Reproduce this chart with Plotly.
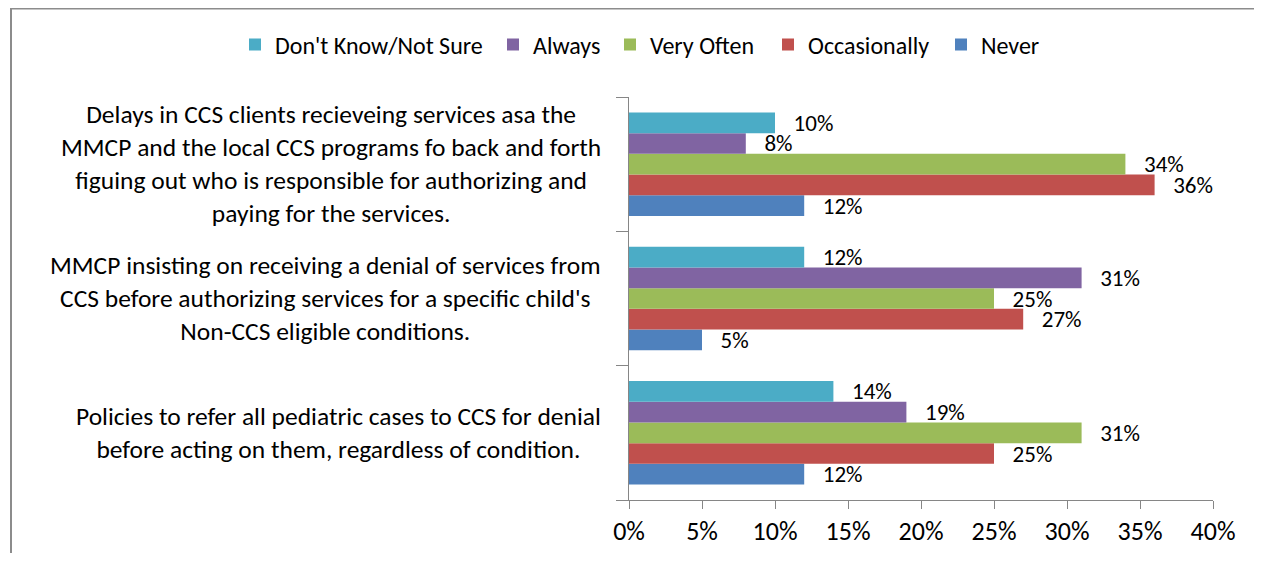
import plotly.graph_objects as go

categories = [
    "Policies to refer all pediatric cases to CCS for denial<br>before acting on them, regardless of condition.",
    "MMCP insisting on receiving a denial of services from<br>CCS before authorizing services for a specific child's<br>Non-CCS eligible conditions.",
    "Delays in CCS clients recieveing services asa the<br>MMCP and the local CCS programs fo back and forth<br>figuing out who is responsible for authorizing and<br>paying for the services.",
]
cat_keys = ["Policies", "MMCP", "Delays"]

never = [12, 5, 12]
occasionally = [25, 27, 36]
very_often = [31, 25, 34]
always = [19, 31, 8]
dont_know = [14, 12, 10]

series = [
    ("Never", never, "#4F81BD"),
    ("Occasionally", occasionally, "#C0504D"),
    ("Very Often", very_often, "#9BBB59"),
    ("Always", always, "#8064A2"),
    ("Don't Know/Not Sure", dont_know, "#4BACC6"),
]

x_ticks = [0, 5, 10, 15, 20, 25, 30, 35, 40]

FONT = "Carlito, Calibri, Lato, sans-serif"

# page has an 8px body margin; figure coordinates = page - 8
W, H = 1246, 545
L, R, T, B = 621, 41, 89, 53
pw = W - L - R
ph = H - T - B

# legend entry left positions (figure px), one legend per series
legend_left = {
    "Don't Know/Not Sure": 227,
    "Always": 485,
    "Very Often": 602,
    "Occasionally": 760,
    "Never": 933,
}

fig = go.Figure()
legend_layouts = {}
for i, (name, vals, color) in enumerate(series):
    lname = "legend" if i == 0 else f"legend{i + 1}"
    fig.add_trace(go.Bar(
        y=cat_keys, x=vals, name=name, orientation="h",
        marker=dict(color=color, line=dict(width=0)),
        text=["\u00a0\u00a0\u00a0" + f"{v}%" for v in vals],
        textposition="outside",
        textfont=dict(size=23, color="black", family=FONT),
        constraintext="none", cliponaxis=False,
        hoverinfo="x+name",
        legend=lname,
    ))
    legend_layouts[lname] = dict(
        orientation="h",
        xref="container", x=legend_left[name] / W, xanchor="left",
        yref="container", y=1 - 37 / H, yanchor="middle",
        font=dict(size=24, family=FONT),
        itemwidth=30, itemsizing="constant",
        bgcolor="rgba(0,0,0,0)",
    )


def px_to_paper_x(px):
    return (px - L) / pw


def px_to_paper_y(py):
    return 1 - (py - T) / ph


annotations = []
for key, label in zip(cat_keys, categories):
    annotations.append(dict(
        x=px_to_paper_x(595), xref="paper", xanchor="right",
        y=key, yref="y", yanchor="middle",
        text=label, align="center", showarrow=False,
        font=dict(size=25.5, color="black", family=FONT),
    ))

shapes = [
    dict(type="line", xref="paper", yref="paper",
         x0=px_to_paper_x(3), x1=px_to_paper_x(3),
         y0=px_to_paper_y(0), y1=px_to_paper_y(H + 10),
         line=dict(color="#8C8C8C", width=2)),
    dict(type="line", xref="paper", yref="paper",
         x0=px_to_paper_x(2), x1=px_to_paper_x(W + 10),
         y0=px_to_paper_y(0.5), y1=px_to_paper_y(0.5),
         line=dict(color="#8C8C8C", width=2)),
]

fig.update_layout(
    width=W, height=H,
    margin=dict(l=L, r=R, t=T, b=B, autoexpand=False),
    paper_bgcolor="white", plot_bgcolor="white",
    barmode="group", bargap=0.23, bargroupgap=0,
    font=dict(family=FONT, color="black", size=24),
    showlegend=True,
    annotations=annotations,
    shapes=shapes,
    **legend_layouts,
)
fig.update_xaxes(
    range=[0, 40], tickvals=x_ticks, ticktext=[f"{v}%" for v in x_ticks],
    showgrid=False, zeroline=False,
    showline=True, linecolor="#868686", linewidth=1,
    ticks="outside", ticklen=8, tickcolor="#868686",
    tickfont=dict(size=26, family=FONT), fixedrange=True,
)
fig.update_yaxes(
    categoryorder="array", categoryarray=cat_keys,
    showticklabels=False, showgrid=False, zeroline=False,
    showline=True, linecolor="#868686", linewidth=1,
    ticks="outside", ticklen=12, tickcolor="#868686", tickson="boundaries",
    fixedrange=True,
)

fig.write_html("out.html")
